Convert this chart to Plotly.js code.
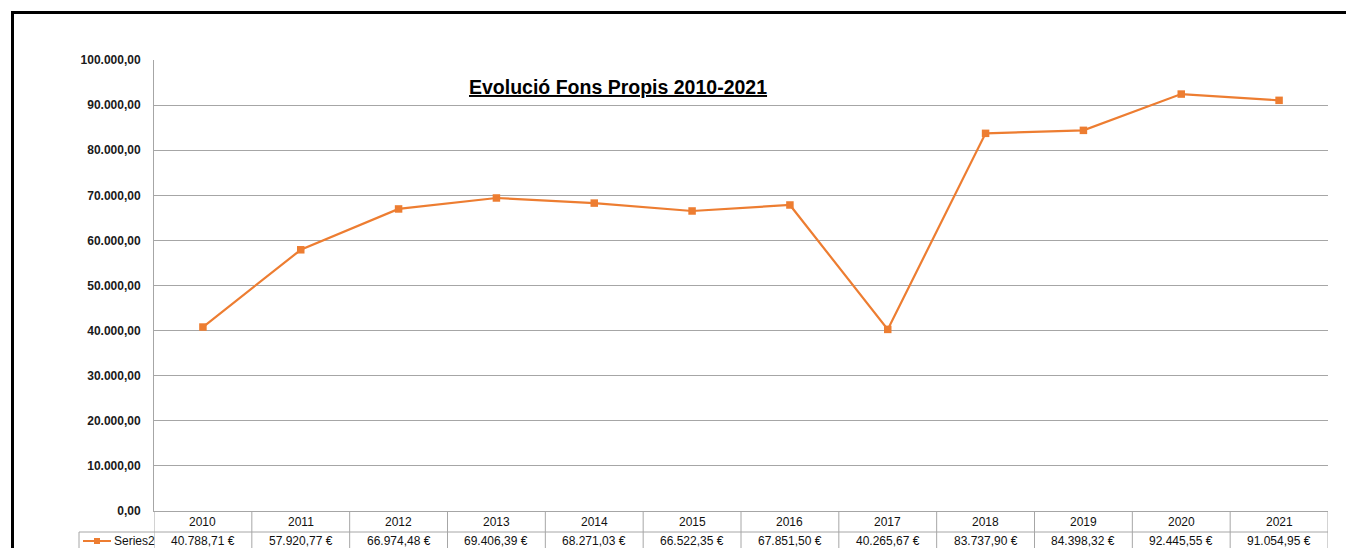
<!DOCTYPE html>
<html>
<head>
<meta charset="utf-8">
<script src="https://cdn.plot.ly/plotly-3.0.1.min.js"></script>
<style>
html,body{margin:0;padding:0;background:#fff;}
#chart{width:1346px;height:548px;}
#frame{position:absolute;left:11px;top:11px;width:1400px;height:600px;border-left:3px solid #000;border-top:3px solid #000;pointer-events:none;}
</style>
</head>
<body>
<div id="chart"></div>
<div id="frame"></div>
<script>
const years = ['2010','2011','2012','2013','2014','2015','2016','2017','2018','2019','2020','2021'];
const values = [40788.71, 57920.77, 66974.48, 69406.39, 68271.03, 66522.35, 67851.50, 40265.67, 83737.90, 84398.32, 92445.55, 91054.95];
const valueLabels = ['40.788,71 €','57.920,77 €','66.974,48 €','69.406,39 €','68.271,03 €','66.522,35 €','67.851,50 €','40.265,67 €','83.737,90 €','84.398,32 €','92.445,55 €','91.054,95 €'];
const yTickVals = [0,10000,20000,30000,40000,50000,60000,70000,80000,90000,100000];
const yTickText = ['0,00','10.000,00','20.000,00','30.000,00','40.000,00','50.000,00','60.000,00','70.000,00','80.000,00','90.000,00','100.000,00'];
const seriesName = 'Series2';
const titleText = 'Evolució Fons Propis 2010-2021';

const W = 1346, H = 548;
const L = 154, R = 18, T = 60, B = 37;
const plotW = W - L - R, plotH = H - T - B;
const px2paperY = p => (H - B - p) / plotH;   // pixel y -> paper y
const px2paperX = p => (p - L) / plotW;
const orange = '#ED7D31';
const gridCol = '#a6a6a6';
const tableFont = {family:'Liberation Sans, Arial, sans-serif', size:12, color:'#111'};

const shapes = [];
const annotations = [];
const n = years.length;
// table lines
const yRow1 = px2paperY(532), yBottom = px2paperY(560);
shapes.push({type:'line', xref:'paper', yref:'paper', x0:px2paperX(79), x1:1, y0:yRow1, y1:yRow1, line:{color:gridCol, width:1}});
shapes.push({type:'line', xref:'paper', yref:'paper', x0:px2paperX(79), x1:px2paperX(79), y0:yRow1, y1:yBottom, line:{color:gridCol, width:1}});
for (let i = 0; i <= n; i++) {
  shapes.push({type:'line', xref:'x', yref:'paper', x0:i-0.5, x1:i-0.5, y0:0, y1:yBottom, line:{color:gridCol, width:1}});
}
years.forEach((y, i) => {
  annotations.push({xref:'x', yref:'paper', x:i, y:px2paperY(521.5), text:y, showarrow:false,
    font:tableFont, xanchor:'center', yanchor:'middle'});
  annotations.push({xref:'x', yref:'paper', x:i, y:px2paperY(540.5), text:valueLabels[i], showarrow:false,
    font:tableFont, xanchor:'center', yanchor:'middle'});
});
// legend key in table
shapes.push({type:'line', xref:'paper', yref:'paper', x0:px2paperX(83), x1:px2paperX(111), y0:px2paperY(541), y1:px2paperY(541), line:{color:orange, width:2}});
shapes.push({type:'rect', xref:'paper', yref:'paper', x0:px2paperX(94), x1:px2paperX(100), y0:px2paperY(544), y1:px2paperY(538), line:{width:0}, fillcolor:orange});
annotations.push({xref:'paper', yref:'paper', x:px2paperX(112), y:px2paperY(540.5), text:seriesName, showarrow:false,
  font:tableFont, xanchor:'left', yanchor:'middle'});
// title
annotations.push({xref:'paper', yref:'paper', x:px2paperX(618), y:px2paperY(87), text:'<b><u>'+titleText+'</u></b>', showarrow:false,
  font:{family:'Liberation Sans, Arial, sans-serif', size:19.5, color:'#000'}, xanchor:'center', yanchor:'middle'});

const trace = {
  x: years, y: values, type:'scatter', mode:'lines+markers', name:seriesName,
  line:{color:orange, width:2.2}, marker:{symbol:'square', size:7.5, color:orange},
  cliponaxis:false, hoverinfo:'x+y'
};

const layout = {
  width:W, height:H, margin:{l:L, r:R, t:T, b:B, pad:0},
  paper_bgcolor:'#fff', plot_bgcolor:'#fff', showlegend:false,
  xaxis:{type:'category', range:[-0.5, n-0.5], showticklabels:false, showgrid:false, zeroline:false,
    showline:true, linecolor:gridCol, linewidth:1, ticks:'', fixedrange:true},
  yaxis:{range:[0,100000], tickvals:yTickVals, ticktext:yTickText, showgrid:true, gridcolor:gridCol, gridwidth:1,
    zeroline:false, showline:true, linecolor:gridCol, linewidth:1, ticks:'', ticklabelstandoff:10,
    tickfont:{family:'Liberation Sans, Arial, sans-serif', size:12, color:'#1a1a1a', weight:'bold'}, fixedrange:true},
  shapes:shapes, annotations:annotations
};
Plotly.newPlot('chart', [trace], layout, {displayModeBar:false, staticPlot:true});
</script>
</body>
</html>
